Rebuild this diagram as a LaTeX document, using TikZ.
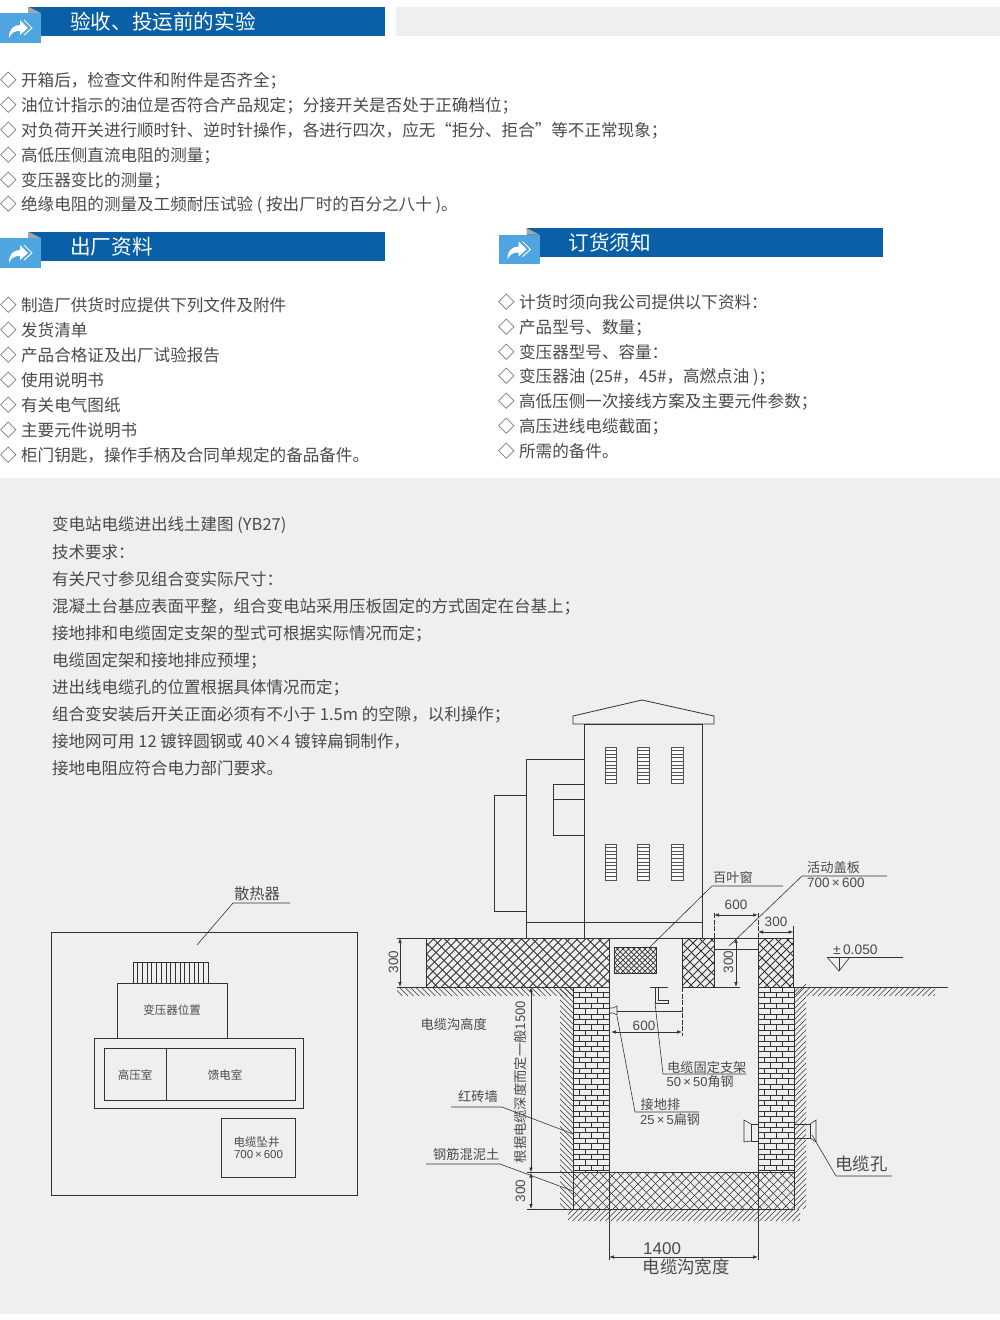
\documentclass[tikz,border=0pt]{standalone}
\usepackage{fontspec}
\setmainfont{Noto Sans CJK SC}
\newfontfamily\latf{Liberation Sans}
\usetikzlibrary{arrows.meta}
\definecolor{panel}{HTML}{EFEFEF}
\definecolor{barblue}{HTML}{0A60A6}
\definecolor{iconblue}{HTML}{4FA5DF}
\definecolor{foldgrey}{HTML}{9CA6AE}
\definecolor{txt}{HTML}{4A4A4A}
\definecolor{ink}{HTML}{333333}
\tikzset{
  listitem/.style={anchor=west,inner sep=0pt,text=txt,yshift=-0.4pt,font=\fontsize{16.57}{16}\selectfont},
  bodyline/.style={anchor=west,inner sep=0pt,text=txt,yshift=-0.4pt,font=\fontsize{16.5}{16}\selectfont},
  hdrtext/.style={anchor=west,inner sep=0pt,text=white,font=\fontsize{20.6}{20}\selectfont},
  ln/.style={draw=ink,line width=0.8pt},
  thin/.style={draw=ink,line width=0.6pt},
  lab/.style={inner sep=0pt,text=txt,font=\fontsize{13.2}{13}\selectfont},
  lablft/.style={lab,anchor=west},
  dim/.style={inner sep=0pt,text=txt,font=\latf\fontsize{13.5}{13}\selectfont},
  big/.style={inner sep=0pt,anchor=west,text=txt,font=\fontsize{17.4}{17}\selectfont},
  small/.style={inner sep=0pt,text=txt,font=\fontsize{11.5}{11}\selectfont},
  dimarrow/.style={draw=ink,line width=0.7pt,{Latex[length=5pt,width=3.6pt]}-{Latex[length=5pt,width=3.6pt]}},
  ext/.style={draw=ink,line width=0.6pt},
  dashx/.style={draw=ink,line width=0.6pt,dash pattern=on 5pt off 1.5pt}
}
% diagonal lines inside a rectangle: x1 y1 x2 y2 step dir(+1 = \, -1 = /) width
\newcommand\diaglines[7]{%
  \begin{scope}
    \clip (#1,#2) rectangle (#3,#4);
    \pgfmathsetmacro\hh{#4-#2}
    \pgfmathsetmacro\sa{#1-\hh}
    \pgfmathsetmacro\sb{\sa+#5}
    \foreach \s in {\sa,\sb,...,#3} {
      \ifnum#6>0
        \draw[draw=ink,line width=#7pt] (\s,#2) -- (\s+\hh,#4);
      \else
        \draw[draw=ink,line width=#7pt] (\s+\hh,#2) -- (\s,#4);
      \fi
    }
  \end{scope}}
% x1 y1 x2 y2 width step-back step-forward
\newcommand\concrete[7]{%
  \diaglines{#1}{#2}{#3}{#4}{#6}{1}{#5}
  \diaglines{#1}{#2}{#3}{#4}{#7}{-1}{#5}
  \draw[ln] (#1,#2) rectangle (#3,#4);}
% bricks x1 y1 x2 y2
\newcommand\bricks[4]{%
  \begin{scope}
    \clip (#1,#2) rectangle (#3,#4);
    \pgfmathsetmacro\ya{#2}
    \pgfmathsetmacro\yb{#2+5.4}
    \foreach \y [count=\r] in {\ya,\yb,...,#4} {
      \draw[draw=ink,line width=0.9pt] (#1,\y) -- (#3,\y);
      \pgfmathsetmacro\off{mod(\r,2)==0 ? 6 : 0}
      \foreach \k in {0,1,2,3} {
        \draw[draw=ink,line width=0.7pt] (#1+\off+12*\k,\y) -- (#1+\off+12*\k,\y+5.4);
      }
    }
  \end{scope}
  \draw[ln] (#1,#2) rectangle (#3,#4);}
\newcommand\hdr[4]{%
  \begin{scope}[shift={(#1,#2)}]
    \fill[barblue] (28,6.5) rectangle (384.5,35.5);
    \fill[foldgrey] (28,6.5) -- (41,13) -- (28,13) -- cycle;
    \fill[iconblue] (0,13) rectangle (41,42.5);
    \fill[white] (9,38) .. controls (8.5,29) and (14,25) .. (20,25) -- (20,20) -- (28,28) -- (20,35) -- (20,31) .. controls (15,30.5) and (11,33) .. (9,38) -- cycle;
    \draw[white,line width=1pt] (24,20) -- (32,28) -- (24,35);
    \node[hdrtext] (#3) at (70,21.5) {#4};
  \end{scope}}
\newcommand\louver[4]{%
  \fill[white!60!panel] (#1,#2) rectangle (#3,#4);
  \foreach \j in {0,...,10} {\draw[draw=black!68,line width=1pt] (#1,#2+\j*3.6) -- (#3,#2+\j*3.6);}
  \draw[draw=black!68,line width=1pt] (#1,#2) rectangle (#3,#4);}
\newcommand\li{◇\hspace{4.4pt}}
\begin{document}
\begin{tikzpicture}[x=1pt,y=-1pt]
\useasboundingbox (0,0) rectangle (1000,1320);
\fill[white] (0,0) rectangle (1000,1320);
\fill[panel] (0,478) rectangle (1000,1313.5);
\fill[panel] (396,7) rectangle (1000,35.5);
\hdr{0}{0}{h1}{验收、投运前的实验}
\hdr{0}{225}{h2}{出厂资料}
\hdr{498.5}{221.5}{h3}{订货须知}
% list one
\node[listitem] (a1) at (0,80) {\li 开箱后，检查文件和附件是否齐全；};
\node[listitem] (a2) at (0,105) {\li 油位计指示的油位是否符合产品规定；分接开关是否处于正确档位；};
\node[listitem] (a3) at (0,130) {\li 对负荷开关进行顺时针、逆时针操作，各进行四次，应无“拒分、拒合”等不正常现象；};
\node[listitem] (a4) at (0,155) {\li 高低压侧直流电阻的测量；};
\node[listitem] (a5) at (0,180) {\li 变压器变比的测量；};
\node[listitem] (a6) at (0,204.5) {\li 绝缘电阻的测量及工频耐压试验 ( 按出厂时的百分之八十 )。};
% list two
\node[listitem] (b1) at (0,305) {\li 制造厂供货时应提供下列文件及附件};
\node[listitem] (b2) at (0,330) {\li 发货清单};
\node[listitem] (b3) at (0,355) {\li 产品合格证及出厂试验报告};
\node[listitem] (b4) at (0,380) {\li 使用说明书};
\node[listitem] (b5) at (0,405) {\li 有关电气图纸};
\node[listitem] (b6) at (0,430) {\li 主要元件说明书};
\node[listitem] (b7) at (0,454.5) {\li 柜门钥匙，操作手柄及合同单规定的备品备件。};
% list three
\node[listitem] (c1) at (498,302) {\li 计货时须向我公司提供以下资料：};
\node[listitem] (c2) at (498,327) {\li 产品型号、数量；};
\node[listitem] (c3) at (498,352) {\li 变压器型号、容量：};
\node[listitem] (c4) at (498,377) {\li 变压器油 (25\#，45\#，高燃点油 )；};
\node[listitem] (c5) at (498,401.5) {\li 高低压侧一次接线方案及主要元件参数；};
\node[listitem] (c6) at (498,426.5) {\li 高压进线电缆截面；};
\node[listitem] (c7) at (498,451) {\li 所需的备件。};
% requirements
\node[bodyline] (t1) at (52,525) {变电站电缆进出线土建图 (YB27)};
\node[bodyline] (t2) at (52,552) {技术要求：};
\node[bodyline] (t3) at (52,579) {有关尺寸参见组合变实际尺寸：};
\node[bodyline] (t4) at (52,606) {混凝土台基应表面平整，组合变电站采用压板固定的方式固定在台基上；};
\node[bodyline] (t5) at (52,633) {接地排和电缆固定支架的型式可根据实际情况而定；};
\node[bodyline] (t6) at (52,660) {电缆固定架和接地排应预埋；};
\node[bodyline] (t7) at (52,687) {进出线电缆孔的位置根据具体情况而定；};
\node[bodyline] (t8) at (52,714) {组合变安装后开关正面必须有不小于 1.5m 的空隙，以利操作；};
\node[bodyline] (t9) at (52,741) {接地网可用 12 镀锌圆钢或 40×4 镀锌扁铜制作，};
\node[bodyline] (t10) at (52,768) {接地电阻应符合电力部门要求。};
% plan view
\draw[ln] (51.5,932.5) rectangle (357,1195);
\draw[thin] (197,945) -- (233,903) -- (290,903);
\node[inner sep=0pt,text=txt,font=\fontsize{15.3}{15}\selectfont] (sanre) at (257,894) {散热器};
\draw[ln] (133,962) rectangle (208,983);
\foreach \k in {1,...,15} {\draw[thin] (133+\k*4.69,962) -- (133+\k*4.69,983);}
\node[draw=ink,line width=0.8pt,minimum width=110pt,minimum height=55pt,inner sep=0pt,text=txt,font=\fontsize{11.5}{11}\selectfont] (trans) at (172,1010.5) {变压器位置};
\draw[ln] (94,1038) rectangle (303,1108);
\draw[ln] (104,1048.5) rectangle (295.5,1100.5);
\draw[ln] (166,1048.5) -- (166,1100.5);
\node[small] (hv) at (135,1075) {高压室};
\node[small] (feed) at (225,1075) {馈电室};
\draw[ln] (221.5,1118.5) rectangle (295,1177);
\node[small] (well1) at (256.5,1142) {电缆坠井};
\node[small,font=\latf\fontsize{11.5}{11}\selectfont] (well2) at (258.5,1155) {700\,×\,600};
% transformer
\draw[ln,fill=panel] (573,724) -- (573,716) -- (642,700) -- (714,716) -- (714,724) -- cycle;
\draw[ln] (584,724) rectangle (702,938);
\draw[ln] (526,938) -- (526,759) -- (584,759);
\draw[ln] (526,922) -- (702,922);
\draw[ln] (584,784) -- (553,784) -- (553,835) -- (584,835);
\draw[ln] (553,799) -- (584,799);
\draw[ln] (526,795) -- (494,795) -- (494,911) -- (526,911);
\louver{605}{747}{616}{783}
\louver{637}{747}{649}{783}
\louver{671}{747}{683}{783}
\louver{605}{844}{616}{880}
\louver{637}{844}{649}{880}
\louver{671}{844}{683}{880}
% soil hatch
\diaglines{397}{987}{573}{996}{5.5}{1}{0.6}
\diaglines{560}{987}{573}{1209}{5.5}{1}{0.6}
\diaglines{794}{987}{806}{1209}{5.5}{-1}{0.6}
\diaglines{805}{987}{935}{996}{5.5}{-1}{0.6}
\diaglines{568}{1209}{800}{1221}{5.5}{-1}{0.6}
% concrete
\concrete{426.5}{938}{609}{987}{0.9}{11}{8}
\concrete{682}{938}{714}{987}{0.9}{11}{8}
\concrete{758}{938}{793.5}{987}{0.9}{11}{8}
\concrete{573}{1172.5}{794}{1209}{0.6}{9}{8.5}
\begin{scope}
  \clip (614,947) rectangle (656,973);
  \diaglines{614}{947}{656}{973}{5.5}{1}{0.7}
  \diaglines{614}{947}{656}{973}{5.5}{-1}{0.7}
\end{scope}
\draw[ln] (614,947) rectangle (656,973);
% bricks
\bricks{573}{987}{609}{1172.5}
\bricks{758}{987}{794}{1172.5}
% lines
\draw[ln] (397,938) -- (758,938);
\draw[ln] (702,938) -- (758,938);
\draw[thin] (714,949) -- (758,949);
\draw[ln] (397,987) -- (573,987);
\draw[ln] (682,987) -- (740,987);
\draw[ln] (794,987) -- (948,987);
\draw[thin] (794,996) -- (806,984);
\draw[ln] (527,1209) -- (794,1209);
\draw[thin] (527,1172.5) -- (573,1172.5);
\draw[ln] (609,1172.5) -- (609,1260);
\draw[ln] (758,1172.5) -- (758,1260);
\draw[dashx] (714,913) -- (714,938);
\draw[dashx] (758,913) -- (758,938);
\draw[dashx] (682,987) -- (682,1036);
\draw[ext] (793.5,926) -- (793.5,938);
% dimension lines
\coordinate (d1a) at (714,915); \coordinate (d1b) at (758,915);
\draw[dimarrow] (d1a) -- (d1b);
\node[dim] (d600a) at (736,905) {600};
\coordinate (d2a) at (758,932); \coordinate (d2b) at (793.5,932);
\draw[dimarrow] (d2a) -- (d2b);
\node[dim] (d300a) at (776,922) {300};
\coordinate (d3a) at (736,938); \coordinate (d3b) at (736,987);
\draw[dimarrow] (d3a) -- (d3b);
\node[dim,rotate=90] (d300b) at (728.5,962) {300};
\coordinate (d4a) at (400,938); \coordinate (d4b) at (400,987);
\draw[dimarrow] (d4a) -- (d4b);
\node[dim,rotate=90] (d300c) at (393.5,962) {300};
\coordinate (d5a) at (531,987); \coordinate (d5b) at (531,1172.5);
\draw[dimarrow] (d5a) -- (d5b);
\coordinate (d6a) at (531,1172.5); \coordinate (d6b) at (531,1209);
\draw[dimarrow] (d6a) -- (d6b);
\node[dim,rotate=90] (d300d) at (520.5,1191) {300};
\node[lab,rotate=90,font=\fontsize{13.3}{13}\selectfont] (deep) at (520.5,1082) {根据电缆深度而定一般1500};
\coordinate (d7a) at (611,1032); \coordinate (d7b) at (682,1032);
\draw[dimarrow] (d7a) -- (d7b);
\node[dim] (d600b) at (644,1026) {600};
\coordinate (d8a) at (609,1257); \coordinate (d8b) at (758,1257);
\draw[dimarrow] (d8a) -- (d8b);
\node[big,font=\latf\fontsize{17}{17}\selectfont] (d1400) at (643,1249) {1400};
\node[big] (width) at (642.5,1267) {电缆沟宽度};
\node[lablft] (height) at (420.5,1024) {电缆沟高度};
% elevation mark
\draw[thin] (827,957) -- (903,957);
\draw[thin] (827,957) -- (839,971) -- (850,957);
\draw[thin] (839,957) -- (839,971);
\node[dim,anchor=west,font=\latf\fontsize{13.8}{13}\selectfont] (lev) at (833,950) {±\,0.050};
% leaders and notes
\draw[thin] (650,947) -- (712,886) -- (783,886);
\node[lablft] (bye) at (713,877) {百叶窗};
\draw[thin] (729,946) -- (802,876) -- (887,876);
\node[lablft] (cover1) at (807,867.5) {活动盖板};
\node[dim,anchor=west] (cover2) at (807,883) {700\,×\,600};
% bracket
\draw[thin] (650,987) -- (668,987);
\draw[thin] (655,987) -- (655,1003) -- (668,1003) -- (668,1000) -- (658,1000) -- (658,987);
\draw[thin] (655,1003) -- (663,1074) -- (746,1074);
\node[lablft] (br1) at (667,1067) {电缆固定支架};
\node[dim,anchor=west,font=\fontsize{13}{13}\selectfont] (br2) at (666.5,1082) {\latf 50\,×\,50\rmfamily 角钢};
% earth bar
\draw[thin] (609,1008) -- (613,1008) -- (617,1006) -- (617,1015) -- (613,1013) -- (609,1013);
\draw[thin] (617,1011) -- (682,1011);
\draw[thin] (617,1016) -- (635,1112) -- (699,1112);
\node[lablft] (eb1) at (640.5,1104.5) {接地排};
\node[dim,anchor=west,font=\fontsize{13}{13}\selectfont] (eb2) at (640,1120) {\latf 25\,×\,5\rmfamily 扁钢};
% notes left
\draw[thin] (451,1107) -- (502,1107) -- (573,1134);
\node[lablft] (red) at (458,1096) {红砖墙};
\draw[thin] (426,1164) -- (500,1164) -- (573,1191);
\node[lablft] (rc) at (433,1154) {钢筋混泥土};
% cable holes
\draw[thin] (758,1124) -- (751,1124) -- (751,1141) -- (758,1141);
\draw[thin] (751,1124) -- (744,1120) -- (744,1142) -- (751,1141);
\draw[thin] (794,1124) -- (810,1124) -- (810,1138) -- (794,1138);
\draw[thin] (810,1124) -- (816,1120) -- (816,1142) -- (810,1138);
\draw[thin] (812,1135) -- (836,1176) -- (892,1176);
\node[big] (hole) at (835,1163.5) {电缆孔};
\end{tikzpicture}
\end{document}
